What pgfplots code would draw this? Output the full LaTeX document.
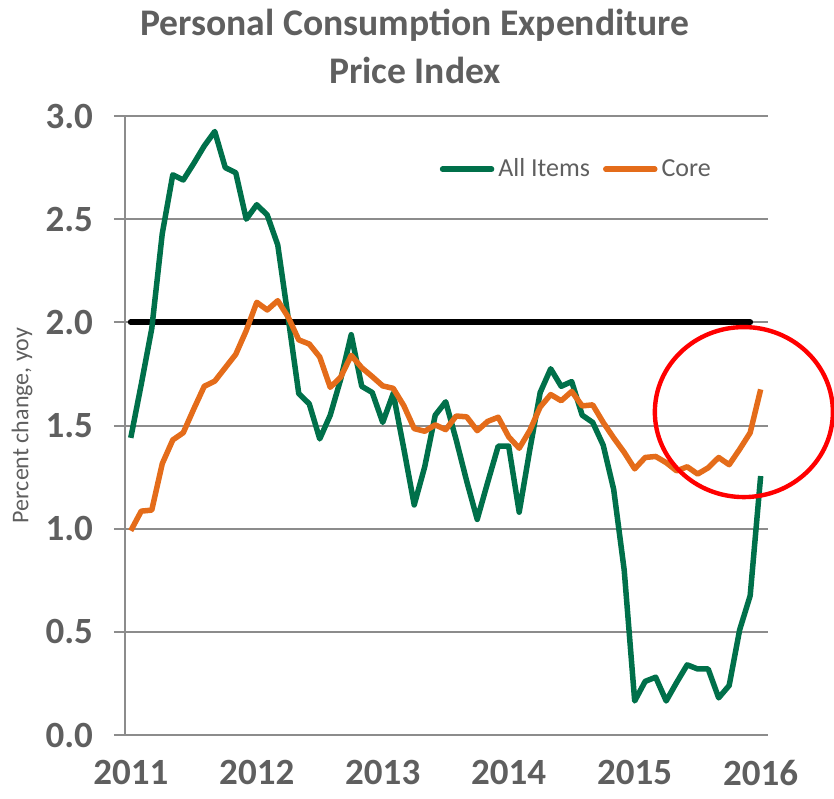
\documentclass[border=0pt]{standalone}
\usepackage{fontspec}
\setmainfont{Carlito}
\usepackage{pgfplots}
\pgfplotsset{compat=1.18}
\definecolor{pgreen}{RGB}{0,112,74}
\definecolor{porange}{RGB}{228,108,26}
\definecolor{txtgray}{RGB}{95,95,95}
\definecolor{gridgray}{RGB}{140,140,140}
\begin{document}
\begin{tikzpicture}
\path[use as bounding box] (-62.5pt,-31.5pt) rectangle (354.5pt,367.5pt);
\begin{axis}[
  scale only axis,
  width=321.5pt, height=309.5pt,
  at={(0,0)}, anchor=south west,
  xmin=-0.55, xmax=60.7,
  ymin=0, ymax=3,
  clip=false,
  axis lines*=left,
  axis line style={-},
  x axis line style={draw=none},
  y axis line style={draw=gridgray, line width=1pt},
  ymajorgrids,
  grid style={draw=gridgray, line width=1pt},
  xtick={0,12,24,36,48,60},
  xticklabels={2011,2012,2013,2014,2015,2016},
  xtick style={draw=none},
  ytick={0,0.5,1,1.5,2,2.5,3},
  /pgf/number format/fixed,
  /pgf/number format/fixed zerofill,
  /pgf/number format/precision=1,
  ytick style={draw=gridgray, line width=1pt},
  tick align=outside,
  major tick length=5.5pt,
  /pgf/number format/assume math mode=true,
  ticklabel style={font=\fontsize{18.5}{20}\selectfont\bfseries, text=txtgray},
  xticklabel style={anchor=north, yshift=-6pt, inner ysep=1pt},
  yticklabel style={anchor=east, xshift=-7pt},
  legend style={at={(rel axis cs:0.489,0.914)}, anchor=west, draw=none, fill=none,
    legend columns=2, font=\fontsize{13}{15}\selectfont, text=txtgray,
    inner sep=0pt, /tikz/every even column/.append style={column sep=4.5pt}},
  legend image code/.code={\draw[#1, line width=2.75pt, line cap=round] (0pt,0pt) -- (24.5pt,0pt);},
  every axis plot/.append style={line join=round},
]
\addplot[black, line width=3pt, line cap=round, forget plot] coordinates {(0,2) (59,2)};
\addplot[pgreen, line width=2.75pt] table {
x y
0 1.44
1 1.70
2 1.97
3 2.43
4 2.715
5 2.69
6 2.77
7 2.855
8 2.925
9 2.75
10 2.725
11 2.50
12 2.57
13 2.52
14 2.375
15 2.02
16 1.655
17 1.605
18 1.435
19 1.55
20 1.725
21 1.94
22 1.69
23 1.66
24 1.515
25 1.655
26 1.39
27 1.115
28 1.30
29 1.55
30 1.615
31 1.43
32 1.23
33 1.045
34 1.225
35 1.40
36 1.40
37 1.08
38 1.38
39 1.66
40 1.775
41 1.69
42 1.713
43 1.55
44 1.515
45 1.405
46 1.19
47 0.80
48 0.165
49 0.26
50 0.28
51 0.165
52 0.255
53 0.34
54 0.32
55 0.32
56 0.18
57 0.24
58 0.51
59 0.675
60 1.255
};
\addlegendentry{All Items}
\addplot[porange, line width=2.75pt] table {
x y
0 0.99
1 1.085
2 1.09
3 1.315
4 1.43
5 1.465
6 1.58
7 1.69
8 1.715
9 1.78
10 1.845
11 1.96
12 2.097
13 2.06
14 2.105
15 2.025
16 1.915
17 1.895
18 1.832
19 1.685
20 1.735
21 1.84
22 1.78
23 1.737
24 1.692
25 1.68
26 1.597
27 1.485
28 1.472
29 1.503
30 1.48
31 1.546
32 1.542
33 1.475
34 1.52
35 1.54
36 1.445
37 1.39
38 1.475
39 1.59
40 1.65
41 1.62
42 1.665
43 1.595
44 1.60
45 1.515
46 1.44
47 1.37
48 1.29
49 1.345
50 1.35
51 1.32
52 1.28
53 1.30
54 1.265
55 1.295
56 1.345
57 1.31
58 1.385
59 1.465
60 1.675
};
\addlegendentry{Core}
\draw[red, line width=2.2pt] (axis cs:58.4,1.565) ellipse [x radius=44.5pt, y radius=42.5pt];
\node[align=center, font=\fontsize{18.8}{24}\selectfont\bfseries, text=txtgray] at ([yshift=35pt]rel axis cs:0.451,1) {Personal Consumption Expenditure\\Price Index};
\node[rotate=90, font=\fontsize{12}{14}\selectfont, text=txtgray] at ([xshift=-51.5pt]rel axis cs:0,0.5) {Percent change, yoy};
\end{axis}
\end{tikzpicture}
\end{document}
